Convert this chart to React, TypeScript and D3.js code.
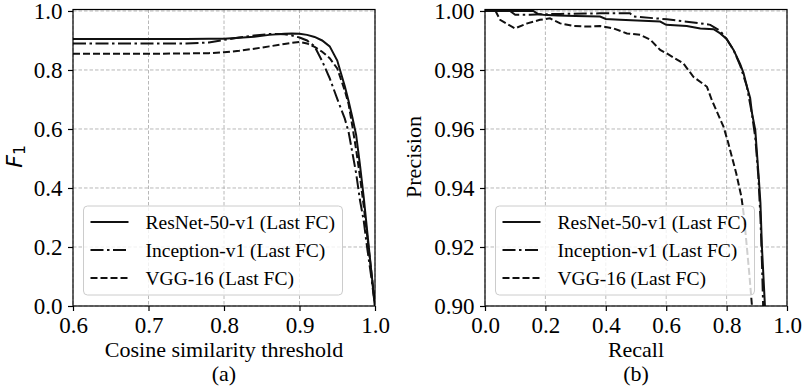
import React, { useEffect, useRef } from "react";
import * as d3 from "d3";

// (a) F1 vs cosine similarity threshold
const thresholds = [0.6, 0.65, 0.7, 0.75, 0.78, 0.8, 0.82, 0.84, 0.86, 0.88, 0.89, 0.9, 0.91, 0.92, 0.93, 0.94, 0.95, 0.96, 0.965, 0.97, 0.975, 0.98, 0.985, 0.99, 0.995, 1.0];
const f1ResNet = [0.905, 0.905, 0.905, 0.905, 0.906, 0.906, 0.909, 0.913, 0.919, 0.923, 0.924, 0.923, 0.919, 0.912, 0.9, 0.88, 0.832, 0.745, 0.695, 0.64, 0.58, 0.48, 0.37, 0.245, 0.12, 0.0];
const f1Inception = [0.89, 0.89, 0.89, 0.89, 0.893, 0.902, 0.91, 0.917, 0.922, 0.921, 0.917, 0.91, 0.9, 0.88, 0.83, 0.772, 0.702, 0.635, 0.59, 0.52, 0.45, 0.36, 0.29, 0.19, 0.1, 0.0];
const f1Vgg = [0.855, 0.855, 0.855, 0.856, 0.857, 0.86, 0.865, 0.872, 0.88, 0.888, 0.892, 0.895, 0.89, 0.878, 0.862, 0.84, 0.805, 0.73, 0.685, 0.61, 0.53, 0.44, 0.34, 0.23, 0.12, 0.0];

// (b) precision / recall
const recallResNet = [0, 0.16, 0.175, 0.193, 0.24, 0.3, 0.381, 0.4, 0.447, 0.58, 0.6, 0.668, 0.713, 0.757, 0.779, 0.8, 0.823, 0.845, 0.856, 0.867, 0.878, 0.884, 0.895, 0.907, 0.912, 0.917, 0.922, 0.927];
const precisionResNet = [1.0, 1.0, 0.999, 0.9987, 0.9985, 0.9983, 0.9981, 0.9973, 0.997, 0.9964, 0.9953, 0.9949, 0.9941, 0.9938, 0.9924, 0.9905, 0.9868, 0.982, 0.979, 0.9745, 0.9705, 0.9654, 0.9596, 0.9427, 0.935, 0.92, 0.91, 0.9];
const recallInception = [0, 0.083, 0.1, 0.15, 0.19, 0.25, 0.38, 0.48, 0.492, 0.602, 0.713, 0.746, 0.779, 0.8, 0.823, 0.845, 0.867, 0.884, 0.895, 0.905, 0.912, 0.917, 0.921];
const precisionInception = [1.0, 1.0, 0.9987, 0.9987, 0.9989, 0.999, 0.9992, 0.9992, 0.9981, 0.9972, 0.9958, 0.9953, 0.9932, 0.9905, 0.9868, 0.9815, 0.9745, 0.965, 0.957, 0.944, 0.93, 0.915, 0.9];
const recallVgg = [0, 0.035, 0.05, 0.099, 0.14, 0.182, 0.215, 0.249, 0.293, 0.348, 0.381, 0.425, 0.47, 0.514, 0.547, 0.58, 0.602, 0.657, 0.69, 0.735, 0.751, 0.79, 0.806, 0.832, 0.849, 0.858, 0.867, 0.876, 0.884];
const precisionVgg = [1.0, 1.0, 0.997, 0.9941, 0.9958, 0.997, 0.9975, 0.9958, 0.9949, 0.9947, 0.9949, 0.9941, 0.9924, 0.9919, 0.9903, 0.9868, 0.9856, 0.9822, 0.9777, 0.9743, 0.9698, 0.9607, 0.9551, 0.9449, 0.937, 0.93, 0.92, 0.91, 0.9];

const seriesNames = ["ResNet-50-v1 (Last FC)", "Inception-v1 (Last FC)", "VGG-16 (Last FC)"];
const dashes = [null, "13,3.5,2.5,3.5", "7,3"];

const f1Ticks = [0, 0.2, 0.4, 0.6, 0.8, 1.0];
const thresholdTicks = [0.6, 0.7, 0.8, 0.9, 1.0];
const precisionTicks = [0.9, 0.92, 0.94, 0.96, 0.98, 1.0];
const recallTicks = [0, 0.2, 0.4, 0.6, 0.8, 1.0];

const App = () => {
  const svgRef = useRef<SVGSVGElement>(null);

  useEffect(() => {
    document.body.style.margin = "0";
    const svg = d3.select(svgRef.current);
    svg.selectAll("*").remove();
    const serif = "'Liberation Serif', 'Times New Roman', serif";
    const top = 9.5;
    const bottom = 306;

    const drawPanel = (cfg: any) => {
      const x = d3.scaleLinear().domain(cfg.xDomain).range([cfg.left, cfg.right]);
      const y = d3.scaleLinear().domain(cfg.yDomain).range([bottom, top]);
      const g = svg.append("g");

      g.append("clipPath").attr("id", "clip-" + cfg.id)
        .append("rect")
        .attr("x", cfg.left).attr("y", top)
        .attr("width", cfg.right - cfg.left).attr("height", bottom - top);

      // grid
      g.selectAll(".vg").data(cfg.xTicks).join("line")
        .attr("x1", (d: number) => x(d)).attr("x2", (d: number) => x(d))
        .attr("y1", top).attr("y2", bottom)
        .attr("stroke", "#b0b0b0").attr("stroke-width", 0.9).attr("stroke-dasharray", "3.5,2");
      g.selectAll(".hg").data(cfg.yTicks).join("line")
        .attr("x1", cfg.left).attr("x2", cfg.right)
        .attr("y1", (d: number) => y(d)).attr("y2", (d: number) => y(d))
        .attr("stroke", "#b0b0b0").attr("stroke-width", 0.9).attr("stroke-dasharray", "3.5,2");

      // lines
      const line = d3.line<[number, number]>().x(d => x(d[0])).y(d => y(d[1]));
      const lines = g.append("g").attr("clip-path", `url(#clip-${cfg.id})`);
      cfg.series.forEach((s: any, i: number) => {
        lines.append("path")
          .datum(d3.zip(s.xs, s.ys) as [number, number][])
          .attr("d", line)
          .attr("fill", "none")
          .attr("stroke", "#111")
          .attr("stroke-width", 2)
          .attr("stroke-dasharray", dashes[i]);
      });

      // axes
      const xAxis = d3.axisBottom(x).tickValues(cfg.xTicks).tickFormat(d3.format(cfg.xFmt)).tickSize(5).tickPadding(5.5);
      const yAxis = d3.axisLeft(y).tickValues(cfg.yTicks).tickFormat(d3.format(cfg.yFmt)).tickSize(5).tickPadding(5.5);
      const ax = g.append("g").attr("transform", `translate(0,${bottom})`).call(xAxis);
      const ay = g.append("g").attr("transform", `translate(${cfg.left},0)`).call(yAxis);
      [ax, ay].forEach(a => {
        a.attr("font-family", null).attr("font-size", null);
        a.select(".domain").remove();
        a.selectAll("line").attr("stroke", "#000").attr("stroke-width", 1.2);
        a.selectAll("text").style("font-family", serif).style("font-size", "23px").attr("fill", "#000");
      });

      // spines
      g.append("rect")
        .attr("x", cfg.left).attr("y", top)
        .attr("width", cfg.right - cfg.left).attr("height", bottom - top)
        .attr("fill", "none").attr("stroke", "#000").attr("stroke-width", 1.2);

      // legend
      const lx = cfg.left + 10.5;
      const ly = 206;
      const lg = g.append("g");
      lg.append("rect")
        .attr("x", lx).attr("y", ly).attr("width", 259).attr("height", 89).attr("rx", 4)
        .attr("fill", "#fff").attr("fill-opacity", 0.8).attr("stroke", "#cccccc").attr("stroke-width", 1);
      seriesNames.forEach((name, i) => {
        const cy = ly + 16 + i * 28;
        lg.append("line")
          .attr("x1", lx + 7).attr("x2", lx + 45).attr("y1", cy).attr("y2", cy)
          .attr("stroke", "#111").attr("stroke-width", 2).attr("stroke-dasharray", dashes[i]);
        lg.append("text")
          .attr("x", lx + 62).attr("y", cy + 6.5)
          .style("font-family", serif).style("font-size", "19.5px").attr("fill", "#000")
          .text(name);
      });

      // x label and caption
      const cx = (cfg.left + cfg.right) / 2;
      g.append("text").attr("x", cx).attr("y", 357).attr("text-anchor", "middle")
        .style("font-family", serif).style("font-size", "22px").text(cfg.xLabel);
      g.append("text").attr("x", cx).attr("y", 381).attr("text-anchor", "middle")
        .style("font-family", serif).style("font-size", "22px").text(cfg.caption);
    };

    drawPanel({
      id: "a", left: 73, right: 375,
      xDomain: [0.6, 1.0], yDomain: [0, 1.005],
      xTicks: thresholdTicks, yTicks: f1Ticks, xFmt: ".1f", yFmt: ".1f",
      series: [
        { xs: thresholds, ys: f1ResNet },
        { xs: thresholds, ys: f1Inception },
        { xs: thresholds, ys: f1Vgg },
      ],
      xLabel: "Cosine similarity threshold", caption: "(a)",
    });
    drawPanel({
      id: "b", left: 485, right: 787,
      xDomain: [0, 1.0], yDomain: [0.9, 1.0005],
      xTicks: recallTicks, yTicks: precisionTicks, xFmt: ".1f", yFmt: ".2f",
      series: [
        { xs: recallResNet, ys: precisionResNet },
        { xs: recallInception, ys: precisionInception },
        { xs: recallVgg, ys: precisionVgg },
      ],
      xLabel: "Recall", caption: "(b)",
    });

    // y labels
    const f1 = svg.append("text")
      .attr("transform", "translate(21.5,156.5) rotate(-90)")
      .attr("text-anchor", "middle")
      .style("font-family", "'DejaVu Sans', sans-serif").style("font-size", "22px");
    f1.append("tspan").attr("font-style", "italic").text("F");
    f1.append("tspan").attr("dy", 3.5).style("font-size", "15.5px").text("1");

    svg.append("text")
      .attr("transform", "translate(421,157) rotate(-90)")
      .attr("text-anchor", "middle")
      .style("font-family", serif).style("font-size", "22px")
      .text("Precision");
  }, []);

  return <svg ref={svgRef} width={807} height={389} style={{ display: "block", background: "#fff" }} />;
};

export default App;
